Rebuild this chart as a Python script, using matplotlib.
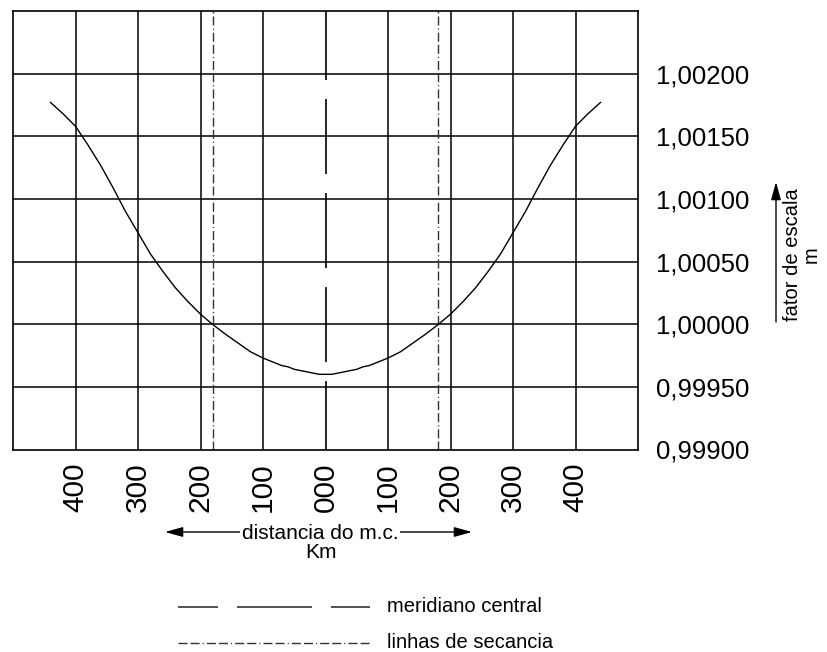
import matplotlib
matplotlib.use("Agg")
import matplotlib.pyplot as plt
from matplotlib.lines import Line2D

plt.rcParams["font.family"] = ["Liberation Sans", "DejaVu Sans"]
plt.rcParams["lines.scale_dashes"] = False

# distance from the central meridian (km) and scale factor m
dist_km = [-440, -420, -400, -380, -360, -340, -320, -300, -280, -260, -240,
           -220, -200, -181, -160, -140, -120, -100, -90, -80, -70, -60, -50,
           -40, -30, -20, -10, 0, 10, 20, 30, 40, 50, 60, 70, 80, 90, 100,
           120, 140, 160, 181, 200, 220, 240, 260, 280, 300, 320, 340, 360,
           380, 400, 420, 440]
scale_m = [1.00177, 1.00168, 1.00158, 1.00143, 1.00127, 1.00109, 1.00090,
           1.00073, 1.00056, 1.00042, 1.00029, 1.00018, 1.00008, 1.00000,
           0.99992, 0.99985, 0.99978, 0.99973, 0.99971, 0.99969, 0.99967,
           0.99966, 0.99964, 0.99963, 0.99962, 0.99961, 0.99960, 0.99960,
           0.99960, 0.99961, 0.99962, 0.99963, 0.99964, 0.99966, 0.99967,
           0.99969, 0.99971, 0.99973, 0.99978, 0.99985, 0.99992, 1.00000,
           1.00008, 1.00018, 1.00029, 1.00042, 1.00056, 1.00073, 1.00090,
           1.00109, 1.00127, 1.00143, 1.00158, 1.00168, 1.00177]

meridian_km = 0
secant_km = [-180, 180]

x_ticks = [-400, -300, -200, -100, 0, 100, 200, 300, 400]
x_labels = ["400", "300", "200", "100", "000", "100", "200", "300", "400"]
y_ticks = [0.99900, 0.99950, 1.00000, 1.00050, 1.00100, 1.00150, 1.00200]
y_labels = ["0,99900", "0,99950", "1,00000", "1,00050", "1,00100", "1,00150", "1,00200"]
grid_km = [-400, -300, -200, -100, 100, 200, 300, 400]
y_top = 1.00250

W, H = 827, 652


def fx(px):
    return px / W


def fy(py):
    return 1 - py / H


fig = plt.figure(figsize=(W / 100, H / 100), dpi=100)
ax = fig.add_axes([fx(13), fy(449.5), 625 / W, 438.5 / H])
ax.set_xlim(-500, 500)
ax.set_ylim(y_ticks[0], y_top)

# grid (the 0 km line is replaced by the central meridian)
for g in grid_km:
    ax.axvline(g, color="black", lw=1.1, zorder=1)
for g in y_ticks[1:]:
    ax.axhline(g, color="black", lw=1.1, zorder=1)

# central meridian: long dashes drawn from the top down (pattern in points)
meridian_ls = (0, (49.7, 13.7, 54, 13.7, 54, 13.7, 54, 13.7, 60, 13.7))
ax.plot([meridian_km, meridian_km], [y_top, y_ticks[0]], color="black",
        lw=1.2, zorder=4, linestyle=meridian_ls, clip_on=False)
# secant lines: dash-dot
secant_ls = (0, (6.5, 2.2, 6.5, 2.2, 0.8, 2.2))
for s in secant_km:
    ax.axvline(s, color="#333333", lw=1.0, zorder=2, linestyle=secant_ls)

ax.plot(dist_km, scale_m, color="black", lw=1.0, zorder=3)

for sp in ax.spines.values():
    sp.set_linewidth(1.2)

ax.set_xticks(x_ticks)
ax.set_xticklabels(x_labels, rotation=90, fontsize=21.5)
ax.tick_params(axis="x", length=0, pad=9)
ax.yaxis.tick_right()
ax.set_yticks(y_ticks)
ax.set_yticklabels(y_labels, fontsize=18.5)
ax.tick_params(axis="y", length=0, pad=13)

# scale factor label with arrow
fig.text(fx(802), fy(255), "fator de escala\nm", rotation=90, ha="center",
         va="center", multialignment="center", fontsize=14.5, linespacing=0.95)
ax.annotate("", xy=(fx(776), fy(182)), xytext=(fx(776), fy(322)),
            xycoords="figure fraction", textcoords="figure fraction",
            arrowprops=dict(arrowstyle="-|>,head_length=0.9,head_width=0.25",
                            color="black", lw=1.0, shrinkA=0, shrinkB=0,
                            mutation_scale=12))

# distance label with double arrow
ax.annotate("", xy=(fx(165), fy(532)), xytext=(fx(472), fy(532)),
            xycoords="figure fraction", textcoords="figure fraction",
            arrowprops=dict(arrowstyle="<|-|>,head_length=0.9,head_width=0.25",
                            color="black", lw=1.0, shrinkA=0, shrinkB=0,
                            mutation_scale=12))
fig.text(fx(320), fy(539), "distancia do m.c.", ha="center", va="baseline",
         fontsize=15, bbox=dict(facecolor="white", edgecolor="none", pad=1.5))
fig.text(fx(321), fy(558), "Km", ha="center", va="baseline", fontsize=15)

# legend
fig.add_artist(Line2D([fx(178), fx(370)], [fy(607), fy(607)], color="#333333",
                      lw=1.2, linestyle=(25.2, (54, 13.7))))
fig.text(fx(387), fy(607), "meridiano central", ha="left", va="center",
         fontsize=14.5)
fig.add_artist(Line2D([fx(178), fx(370)], [fy(643), fy(643)], color="#333333",
                      lw=1.0, linestyle=secant_ls))
fig.text(fx(387), fy(643), "linhas de secancia", ha="left", va="center",
         fontsize=14.5)

fig.savefig("out.png", dpi=100, facecolor="white")
